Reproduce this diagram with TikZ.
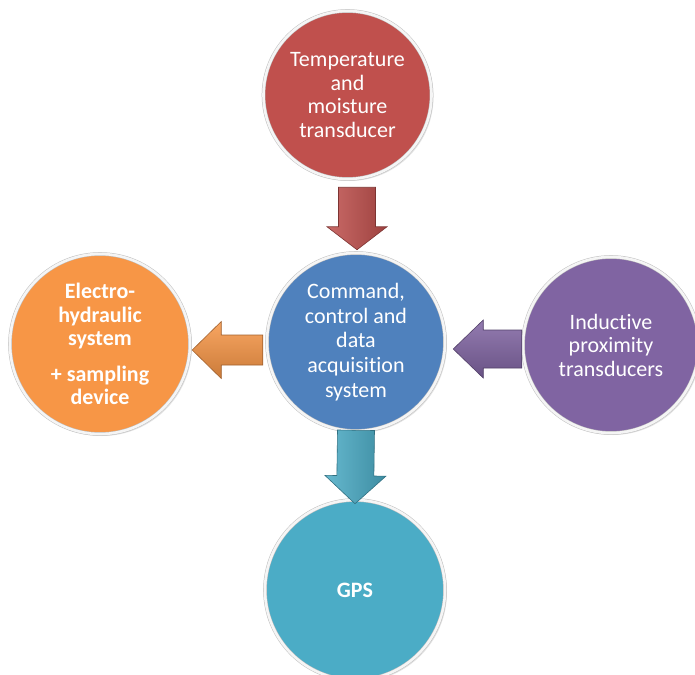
\documentclass[tikz,border=0pt]{standalone}
\usepackage{fontspec}
\setmainfont{Carlito}[Ligatures=NoCommon]
\usetikzlibrary{calc,shadows}

% Office-style theme colours
\definecolor{cred}{HTML}{C0504D}
\definecolor{cblue}{HTML}{4F81BD}
\definecolor{corange}{HTML}{F79646}
\definecolor{cpurple}{HTML}{8064A2}
\definecolor{cteal}{HTML}{4BACC6}

% block arrow from #2 (tail) to #3 (tip);
% #4 shaft half-width, #5 head half-width, #6 head length
\newcommand\blockarrow[6]{%
  \coordinate (ba-t) at #2;
  \coordinate (ba-p) at #3;
  \coordinate (ba-h) at ($(ba-p)!#6!(ba-t)$);
  \path[#1]
    ($(ba-t)!#4!90:(ba-p)$) -- ($(ba-h)!#4!90:(ba-p)$) --
    ($(ba-h)!#5!90:(ba-p)$) -- (ba-p) --
    ($(ba-h)!#5!-90:(ba-p)$) -- ($(ba-h)!#4!-90:(ba-p)$) --
    ($(ba-t)!#4!-90:(ba-p)$) -- cycle;
}

\tikzset{
  bubble/.style={circle, fill=#1, draw=gray!50, double=white!92!gray,
    double distance=2.6pt, line width=0.5pt, text=white, align=center,
    inner sep=0pt, font=\fontsize{22}{23.5}\selectfont,
    drop shadow={opacity=0.22, shadow xshift=2pt, shadow yshift=-2pt}},
  varrow/.style={left color=#1!85!white, middle color=#1, right color=#1!82!black,
    draw=#1!65!black, line width=0.6pt, line join=miter},
  harrow/.style={top color=#1!85!white, middle color=#1, bottom color=#1!82!black,
    draw=#1!65!black, line width=0.6pt, line join=miter},
}

\begin{document}
\begin{tikzpicture}[x=1pt,y=1pt]
  \useasboundingbox (0,0) rectangle (695,-674);

  % circles
  \node[bubble=cred, minimum size=168pt] (temp) at (347.5,-95)
    {Temperature\\and\\moisture\\transducer};
  \node[bubble=cblue, minimum size=178pt, font=\fontsize{22}{24.6}\selectfont]
    (cmd) at (356,-342)
    {Command,\\control and\\data\\acquisition\\system};
  \node[bubble=corange, minimum size=180pt, font=\fontsize{22}{23.5}\selectfont\bfseries]
    (elec) at (100,-344)
    {Electro-\\hydraulic\\system\\[12pt]+ sampling\\device};
  \node[bubble=cpurple, minimum size=176pt] (ind) at (611,-345)
    {Inductive\\proximity\\transducers};
  \node[bubble=cteal, minimum size=180pt, font=\fontsize{22}{23.5}\selectfont\bfseries]
    (gps) at (355,-590) {GPS};

  % block arrows between the circles
  \blockarrow{varrow=cred}{($(temp.south -| cmd.north)+(1,-8)$)}{($(cmd.north)+(1,3)$)}
    {18.5pt}{30pt}{23pt}
  \blockarrow{harrow=corange}{($(cmd.west)+(-4,-8)$)}{($(elec.east)+(2,-6)$)}
    {15pt}{28.5pt}{29pt}
  \blockarrow{harrow=cpurple}{($(ind.west)+(-1,-4)$)}{($(cmd.east)+(8,-7)$)}
    {19pt}{29pt}{30pt}
  \blockarrow{varrow=cteal}{($(cmd.south)+(0,1)$)}{($(gps.north)+(0,-4)$)}
    {18.5pt}{30.5pt}{28pt}
\end{tikzpicture}
\end{document}
